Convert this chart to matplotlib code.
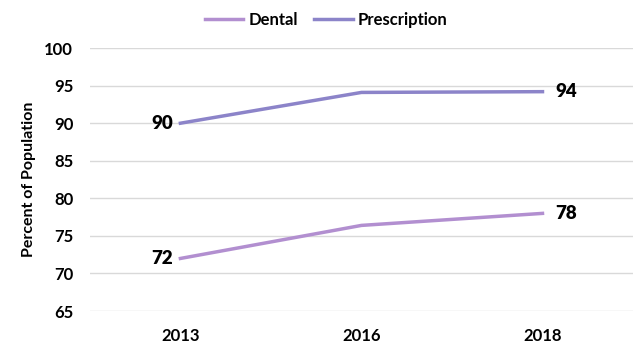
import numpy as np
import matplotlib.pyplot as plt

plt.rcParams['font.family'] = ['Lato', 'DejaVu Sans']

years = ["2013", "2016", "2018"]
dental = [72, 76.4, 78]
prescription = [90, 94.1, 94.2]
dental_labels = ["72", "", "78"]
presc_labels = ["90", "", "94"]

c_dental = "#b28fd0"
c_presc = "#8c84c9"

fig = plt.figure(figsize=(6.42, 3.46), dpi=100)
ax = fig.add_axes([0.140, 0.101, 0.846, 0.760])

x = np.arange(len(years))
ax.plot(x, dental, color=c_dental, linewidth=2.5, label="Dental")
ax.plot(x, prescription, color=c_presc, linewidth=2.5, label="Prescription")

# etiquettes de donnees (premier et dernier point)
lab_kw = dict(va="center", fontsize=13.5, fontweight="heavy")
ax.text(x[0] - 0.04, prescription[0], presc_labels[0], ha="right", **lab_kw)
ax.text(x[0] - 0.04, dental[0], dental_labels[0], ha="right", **lab_kw)
ax.text(x[2] + 0.07, prescription[2], presc_labels[2], ha="left", **lab_kw)
ax.text(x[2] + 0.07, dental[2], dental_labels[2], ha="left", **lab_kw)

ax.set_xlim(-0.5, 2.5)
ax.set_ylim(65, 100)
ax.set_yticks(np.arange(65, 101, 5))
ax.set_xticks(x)
ax.set_xticklabels(years)
ax.tick_params(length=0, labelsize=12, pad=12)
for lab in ax.get_xticklabels() + ax.get_yticklabels():
    lab.set_fontweight("bold")
ax.grid(axis="y", color="#d9d9d9", linewidth=1)
for s in ax.spines.values():
    s.set_visible(False)
ax.set_ylabel("Percent of Population", fontsize=11.5, fontweight="bold", labelpad=6)

fig.legend(loc="upper center", bbox_to_anchor=(0.508, 1.01), ncol=2, frameon=False,
           prop={"weight": "bold", "size": 12}, handlelength=2.3,
           columnspacing=1.0, handletextpad=0.3)

fig.savefig("out.png", dpi=100)
